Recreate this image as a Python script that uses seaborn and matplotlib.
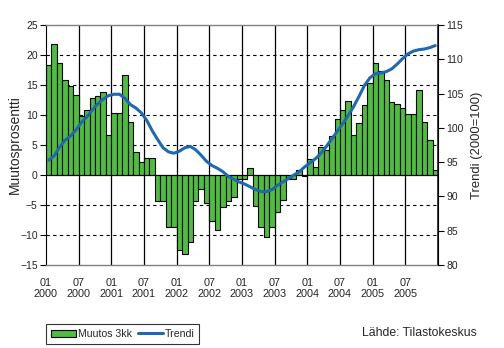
import numpy as np
import pandas as pd
import matplotlib
matplotlib.use("Agg")
import matplotlib.pyplot as plt
import seaborn as sns
from matplotlib.patches import Patch
from matplotlib.lines import Line2D

# Monthly data, 2000-01 .. 2005-12
years = [2000, 2001, 2002, 2003, 2004, 2005]
months = [f"{y}-{m:02d}" for y in years for m in range(1, 13)]

muutos_3kk = [
    18.3, 21.8, 18.7, 15.9, 14.9, 13.3, 9.8, 10.9, 12.9, 13.1, 13.9, 6.6,
    10.4, 10.3, 16.6, 8.9, 3.9, 2.1, 2.8, 2.8, -4.4, -4.4, -8.6, -8.6,
    -12.5, -13.2, -11.1, -4.4, -2.4, -4.7, -7.6, -9.1, -5.4, -4.4, -3.7, -0.7,
    -0.6, 1.1, -5.1, -8.6, -10.4, -8.6, -6.1, -4.1, -0.7, -0.7, 0.8, -0.2,
    2.6, 1.4, 4.7, 4.1, 6.5, 9.3, 10.8, 12.3, 6.6, 8.6, 11.6, 15.3,
    18.6, 17.4, 15.8, 12.1, 11.9, 11.1, 10.1, 10.1, 14.1, 8.9, 5.9, 0.9,
]

trendi = [
    95.3, 95.9, 97.2, 98.2, 98.8, 99.7, 100.8, 101.6, 102.6, 103.5, 104.2, 104.7,
    104.9, 104.9, 104.3, 103.4, 102.9, 102.2, 101.1, 99.6, 98.3, 97.1, 96.5, 96.3,
    96.6, 97.1, 97.3, 96.8, 96.0, 95.1, 94.5, 94.1, 93.6, 92.9, 92.5, 92.1,
    91.8, 91.4, 91.0, 90.7, 90.7, 91.0, 91.6, 92.1, 92.6, 93.1, 93.6, 94.3,
    94.9, 95.5, 96.3, 97.3, 98.4, 99.5, 100.6, 101.8, 103.1, 104.6, 106.2, 107.3,
    107.9, 108.0, 108.2, 108.6, 109.3, 110.1, 110.8, 111.2, 111.4, 111.5, 111.7, 112.0,
]

tick_labels = [f"{m}\n{y}" for y in years for m in ("01", "07")]

bar_color = "#4CBF3C"
line_color = "#1E69B4"

sns.set_theme(style="white")
plt.rcParams["font.family"] = ["Liberation Sans", "DejaVu Sans"]

df = pd.DataFrame({"kk": months, "muutos": muutos_3kk, "trendi": trendi,
                   "pos": np.arange(len(months))})

fig = plt.figure(figsize=(5.04, 3.48), dpi=100)
ax = fig.add_axes([46 / 504, (348 - 265) / 348, 392 / 504, 240 / 348])

# dashed horizontal grid and solid verticals every half year
for yv in range(-10, 25, 5):
    if yv != 0:
        ax.axhline(yv, color="black", lw=0.8, ls=(0, (3, 3)), zorder=0)
for k in range(6, 72, 6):
    ax.axvline(k - 0.5, color="black", lw=0.9, zorder=0)

sns.barplot(data=df, x="kk", y="muutos", color=bar_color, width=1.0,
            edgecolor="black", linewidth=0.8, saturation=1, ax=ax, zorder=2)
ax.axhline(0, color="black", lw=0.8, zorder=3)

ax.set_xlim(-0.5, 71.5)
ax.set_ylim(-15, 25)
ax.set_yticks(range(-15, 30, 5))
ax.set_xticks(np.arange(0, 72, 6) - 0.5)
ax.set_xticklabels(tick_labels, linespacing=1.15)
ax.set_xlabel("")
ax.set_ylabel("Muutosprosentti", fontsize=10, labelpad=-1)
ax.tick_params(axis="x", direction="in", length=4, width=0.8, color="black",
               labelsize=7.8, pad=9)
ax.tick_params(axis="y", direction="out", length=4, width=0.8, color="black",
               labelsize=7.5, pad=2, left=True)

for side in ("top", "bottom"):
    ax.spines[side].set_color("#808080")
    ax.spines[side].set_linewidth(1.0)
ax.spines["left"].set_color("black")
ax.spines["left"].set_linewidth(0.8)

ax2 = ax.twinx()
sns.lineplot(data=df, x="pos", y="trendi", color=line_color, lw=2.2, ax=ax2,
             zorder=4)
ax2.set_ylim(80, 115)
ax2.set_yticks(range(80, 120, 5))
ax2.set_xlim(-0.5, 71.5)
ax2.set_ylabel("Trendi (2000=100)", fontsize=9.4, labelpad=5)
ax2.set_xlabel("")
ax2.tick_params(axis="y", direction="out", length=4, width=0.8, color="black",
                labelsize=7.5, pad=2, right=True)
ax2.spines["right"].set_color("black")
ax2.spines["right"].set_linewidth(0.8)
for side in ("top", "bottom", "left"):
    ax2.spines[side].set_visible(False)

handles = [Patch(facecolor=bar_color, edgecolor="black", lw=0.8, label="Muutos 3kk"),
           Line2D([], [], color=line_color, lw=2.2, label="Trendi")]
leg = fig.legend(handles=handles, loc="center left",
                 bbox_to_anchor=(46 / 504, 1 - 334 / 348), ncol=2,
                 fontsize=7.6, frameon=True, fancybox=False, handlelength=2.4,
                 handleheight=0.6, handletextpad=0.15, columnspacing=0.6,
                 borderpad=0.45, borderaxespad=0)
leg.get_frame().set_edgecolor("black")
leg.get_frame().set_linewidth(0.8)

fig.text(362 / 504, 1 - 333 / 348, "Lähde: Tilastokeskus", fontsize=8.8,
         va="center", ha="left")

fig.savefig("out.png", dpi=100)
